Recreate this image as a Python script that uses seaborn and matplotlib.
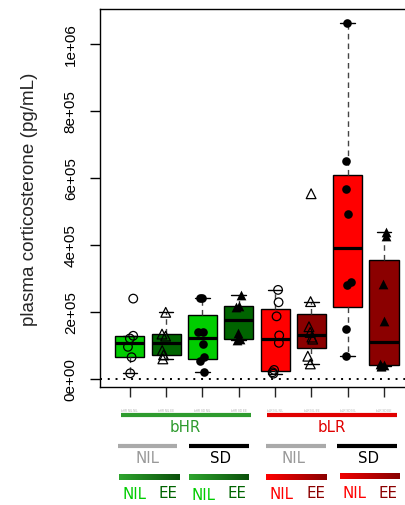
import numpy as np
import pandas as pd
import matplotlib
matplotlib.use("Agg")
import matplotlib.pyplot as plt
import seaborn as sns
from matplotlib.lines import Line2D
from matplotlib.colors import LinearSegmentedColormap

# ---------------- data (pg/mL) ----------------
groups = ["bHR NIL NIL", "bHR NIL EE", "bHR SD NIL", "bHR SD EE",
          "bLR NIL NIL", "bLR NIL EE", "bLR SD NIL", "bLR SD EE"]
bhr_nil_nil = [17000, 65000, 96000, 121000, 129000, 240000]
bhr_nil_ee = [60000, 72000, 85000, 128000, 134000, 199000]
bhr_sd_nil = [22000, 55000, 65000, 104000, 139000, 141000, 241000, 243000]
bhr_sd_ee = [116000, 120000, 136000, 214000, 217000, 250000]
blr_nil_nil = [16000, 20000, 27000, 108000, 130000, 187000, 229000, 266000]
blr_nil_ee = [45000, 68000, 119000, 125000, 139000, 156000, 231000, 553000]
blr_sd_nil = [68000, 149000, 282000, 290000, 492000, 566000, 650000, 1062000]
blr_sd_ee = [38000, 40000, 42000, 45000, 174000, 284000, 426000, 438000]
values = [bhr_nil_nil, bhr_nil_ee, bhr_sd_nil, bhr_sd_ee,
          blr_nil_nil, blr_nil_ee, blr_sd_nil, blr_sd_ee]

box_colors = ["#00CD00", "#006400", "#00CD00", "#006400",
              "#FF0000", "#8B0000", "#FF0000", "#8B0000"]
markers = ["o", "^", "o", "^", "o", "^", "o", "^"]
filled = [False, False, True, True, False, False, True, True]

ytick_values = [0, 200000, 400000, 600000, 800000, 1000000]
ytick_labels = ["0e+00", "2e+05", "4e+05", "6e+05", "8e+05", "1e+06"]
ylabel = "plasma corticosterone (pg/mL)"

# ---------------- helpers ----------------
def r_box_stats(vals, label):
    """Tukey hinges + 1.5*IQR whiskers, as R's boxplot()."""
    x = np.sort(np.asarray(vals, float))
    n = len(x)
    n4 = np.floor((n + 3) / 2) / 2
    d = np.array([1, n4, (n + 1) / 2, n + 1 - n4, n]) - 1
    fn = 0.5 * (x[np.floor(d).astype(int)] + x[np.ceil(d).astype(int)])
    q1, med, q3 = fn[1], fn[2], fn[3]
    iqr = q3 - q1
    inside = x[(x >= q1 - 1.5 * iqr) & (x <= q3 + 1.5 * iqr)]
    return dict(med=med, q1=q1, q3=q3, whislo=inside.min(),
                whishi=inside.max(), fliers=[], label=label)

df = pd.DataFrame({
    "group": np.repeat(groups, [len(v) for v in values]),
    "cort": np.concatenate(values),
})

# ---------------- figure ----------------
sns.set_style("ticks")
plt.rcParams["font.family"] = ["Liberation Sans", "DejaVu Sans"]

W, H = 406, 506
fig = plt.figure(figsize=(W / 100, H / 100), dpi=100)
ax = fig.add_axes([100 / W, 1 - 388 / H, 313.8 / W, 378 / H])

stats = [r_box_stats(v, g) for v, g in zip(values, groups)]
bp = ax.bxp(stats, positions=range(len(groups)), widths=0.8,
            patch_artist=True, showfliers=False, manage_ticks=False,
            boxprops=dict(edgecolor="black", linewidth=1.0),
            medianprops=dict(color="black", linewidth=2.3, solid_capstyle="butt"),
            whiskerprops=dict(color="#444444", linewidth=1.0, linestyle=(0, (4, 3))),
            capprops=dict(color="black", linewidth=1.0),
            capwidths=0.4)
for patch, c in zip(bp["boxes"], box_colors):
    patch.set_facecolor(c)

np.random.seed(3)
for g, m, f in zip(groups, markers, filled):
    sub = df[df["group"] == g]
    n_before = len(ax.collections)
    sns.stripplot(data=sub, x="group", y="cort", order=groups, ax=ax,
                  marker=m, color="black", size=7.0 if m == "^" else 6.2,
                  jitter=0.12, linewidth=0, zorder=4)
    if not f:
        for coll in ax.collections[n_before:]:
            coll.set_facecolor("none")
            coll.set_edgecolor("black")
            coll.set_linewidth(0.9)

ax.axhline(0, color="black", linewidth=1.4, linestyle=(0, (1, 3)), zorder=1)

ax.set_xlim(-0.82, 7.82)
ax.set_ylim(-23881, 1104478)
ax.set_yticks(ytick_values)
ax.set_yticklabels(ytick_labels, rotation=90, va="center", fontsize=11)
ax.set_xticks(range(len(groups)))
ax.set_xticklabels(groups, fontsize=2.2)
ax.tick_params(axis="y", length=7, width=1, pad=9, colors="black")
ax.tick_params(axis="x", length=7, width=1, pad=8)
for lab in ax.get_xticklabels():
    lab.set_color("#b0b0b0")
ax.set_xlabel("")
ax.set_ylabel(ylabel, fontsize=13.6)
ax.yaxis.set_label_coords(-0.226, 0.5)
ax.yaxis.label.set_verticalalignment("center")
for s in ["left", "top", "bottom", "right"]:
    ax.spines[s].set_visible(True)
    ax.spines[s].set_linewidth(1.0)
    ax.spines[s].set_color("black")

# ---------------- group annotation below the axis ----------------
def fx(x):
    return x / W

def fy(y):
    return 1 - y / H

def hbar(x0, x1, y, color, lw):
    fig.add_artist(Line2D([fx(x0), fx(x1)], [fy(y), fy(y)], transform=fig.transFigure,
                          color=color, linewidth=lw, solid_capstyle="butt"))

def label(x, y, s, color):
    fig.text(fx(x), fy(y), s, ha="center", va="center", color=color,
             fontsize=10.8, family="DejaVu Sans")

def gradient(x0, x1, y, c0, c1, h=6):
    gax = fig.add_axes([fx(x0), fy(y + h / 2), (x1 - x0) / W, h / H])
    gax.imshow(np.linspace(0, 1, 256)[None, :], aspect="auto",
               cmap=LinearSegmentedColormap.from_list("g", [c0, c1]))
    gax.set_axis_off()

hbar(120.7, 250.7, 416, "#2E9B2E", 3.0)
label(185.7, 428, "bHR", "#2E9B2E")
hbar(266.7, 396.7, 416, "#E00000", 3.0)
label(332, 428, "bLR", "#E00000")

hbar(118.3, 177.3, 446.7, "#AAAAAA", 3.0)
label(147.3, 459, "NIL", "#999999")
hbar(189.3, 249, 446.7, "black", 3.0)
label(220.7, 459, "SD", "black")
hbar(266, 325.7, 446.7, "#AAAAAA", 3.0)
label(293.3, 459, "NIL", "#999999")
hbar(337.3, 396.7, 446.7, "black", 3.0)
label(368.3, 459, "SD", "black")

gradient(119.3, 179.3, 478.3, "#2EA52E", "#0B500B")
gradient(189.3, 249, 478.3, "#2EA52E", "#0B500B")
gradient(266, 326.7, 478.3, "#FF0000", "#8B0000")
gradient(340, 399.3, 477, "#F00000", "#880000")

label(134.3, 495, "NIL", "#00CC00")
label(168.3, 494, "EE", "#006400")
label(203.3, 496, "NIL", "#00CC00")
label(237.3, 494, "EE", "#006400")
label(281.7, 495, "NIL", "#FF0000")
label(315.7, 494, "EE", "#8B0000")
label(355, 493.5, "NIL", "#FF0000")
label(387.7, 493.5, "EE", "#8B0000")

fig.savefig("out.png", dpi=100)
